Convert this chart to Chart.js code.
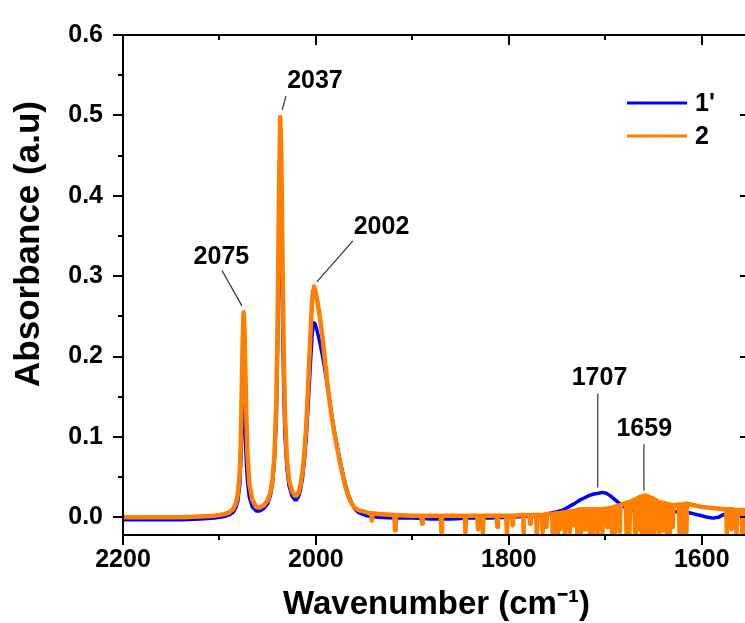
<!DOCTYPE html>
<html>
<head>
<meta charset="utf-8">
<script src="https://cdn.jsdelivr.net/npm/chart.js@4.4.0/dist/chart.umd.min.js"></script>
<style>
  html, body { margin: 0; padding: 0; background: #fff; overflow: hidden; width: 745px; height: 623px; }
  #c { display: block; }
</style>
</head>
<body>
<canvas id="c" width="760" height="623" style="width:760px;height:623px"></canvas>
<script>
// ---- data ----
const blueWn = [2200, 2170, 2140, 2120, 2105, 2095, 2090, 2086, 2083, 2081, 2079, 2078, 2077, 2076, 2075, 2074, 2073, 2072, 2071, 2069, 2066, 2062, 2058, 2054, 2050, 2047, 2045, 2043, 2041, 2040, 2039, 2038, 2037, 2036, 2035, 2034, 2033, 2032, 2030, 2028, 2025, 2022, 2020, 2018, 2016, 2014, 2012, 2010, 2008, 2006, 2004, 2003, 2002, 2001, 1999, 1996, 1993, 1990, 1987, 1984, 1981, 1978, 1975, 1972, 1969, 1966, 1963, 1960, 1956, 1950, 1944, 1935, 1920, 1900, 1880, 1860, 1840, 1820, 1800, 1785, 1775, 1765, 1757, 1750, 1744, 1738, 1732, 1727, 1722, 1717, 1712, 1707, 1703, 1699, 1695, 1691, 1687, 1683, 1679, 1675, 1670, 1662, 1654, 1645, 1636, 1628, 1620, 1614, 1607, 1600, 1594, 1588, 1583, 1578, 1572, 1565, 1558, 1550];
const blueAbs = [-0.003, -0.003, -0.003, -0.002, -0.001, 0.001, 0.003, 0.006, 0.012, 0.02, 0.04, 0.065, 0.1, 0.128, 0.138, 0.125, 0.095, 0.065, 0.045, 0.025, 0.013, 0.008, 0.008, 0.011, 0.017, 0.028, 0.042, 0.07, 0.125, 0.19, 0.27, 0.35, 0.393, 0.36, 0.28, 0.2, 0.14, 0.1, 0.06, 0.04, 0.027, 0.022, 0.022, 0.026, 0.034, 0.048, 0.07, 0.1, 0.14, 0.185, 0.225, 0.238, 0.242, 0.241, 0.233, 0.218, 0.2, 0.178, 0.155, 0.13, 0.108, 0.089, 0.071, 0.054, 0.039, 0.027, 0.018, 0.011, 0.006, 0.003, 0.001, 0.0, -0.001, -0.001, -0.002, -0.002, -0.001, -0.001, 0.0, 0.001, 0.002, 0.003, 0.005, 0.007, 0.009, 0.013, 0.017, 0.021, 0.024, 0.027, 0.029, 0.03, 0.031, 0.03, 0.027, 0.023, 0.019, 0.015, 0.012, 0.01, 0.008, 0.007, 0.006, 0.006, 0.006, 0.007, 0.007, 0.006, 0.004, 0.002, 0.0, -0.001, 0.0, 0.003, 0.005, 0.006, 0.006, 0.006];

const orangeWn = [2200, 2170, 2140, 2120, 2105, 2095, 2090, 2086, 2083, 2081, 2079, 2078, 2077, 2076, 2075, 2074, 2073, 2072, 2071, 2069, 2066, 2062, 2058, 2054, 2050, 2047, 2045, 2043, 2041, 2040, 2039, 2038, 2037, 2036, 2035, 2034, 2033, 2032, 2030, 2028, 2025, 2022, 2020, 2018, 2016, 2014, 2012, 2010, 2008, 2006, 2004, 2003, 2002, 2001, 1999, 1996, 1993, 1990, 1987, 1984, 1981, 1978, 1975, 1972, 1969, 1966, 1963, 1960, 1956, 1950, 1944, 1935, 1920, 1900, 1880, 1860, 1840, 1820, 1800, 1785, 1770, 1755, 1745, 1735, 1725, 1715, 1705, 1697, 1690, 1683, 1676, 1670, 1665, 1660, 1655, 1650, 1645, 1638, 1630, 1622, 1615, 1608, 1600, 1592, 1584, 1575, 1565, 1550];
const orangeAbs = [0.0, 0.0, 0.0, 0.001, 0.002, 0.004, 0.006, 0.01, 0.017, 0.028, 0.055, 0.09, 0.15, 0.215, 0.255, 0.232, 0.175, 0.12, 0.08, 0.042, 0.022, 0.013, 0.012, 0.015, 0.021, 0.032, 0.047, 0.078, 0.145, 0.22, 0.32, 0.43, 0.498, 0.46, 0.36, 0.255, 0.18, 0.125, 0.072, 0.047, 0.033, 0.027, 0.027, 0.031, 0.04, 0.056, 0.08, 0.115, 0.165, 0.22, 0.268, 0.282, 0.287, 0.284, 0.272, 0.25, 0.222, 0.188, 0.155, 0.128, 0.106, 0.086, 0.068, 0.051, 0.036, 0.025, 0.017, 0.012, 0.009, 0.007, 0.005, 0.004, 0.003, 0.002, 0.002, 0.002, 0.002, 0.002, 0.002, 0.003, 0.003, 0.004, 0.006, 0.008, 0.01, 0.01, 0.01, 0.011, 0.013, 0.016, 0.019, 0.022, 0.025, 0.027, 0.026, 0.022, 0.019, 0.017, 0.015, 0.016, 0.017, 0.015, 0.013, 0.012, 0.011, 0.01, 0.009, 0.009];

// noise dropouts in trace 2: [wavenumber, level, bottom]
const orangeDips = [
  [1942, 0.005, -0.004], [1918, 0.003, -0.016], [1890, 0.002, -0.008], [1870, 0.002, -0.018],
  [1845, 0.002, -0.02], [1832, 0.002, -0.015], [1827, 0.002, -0.02], [1812, 0.002, -0.012],
  [1802, 0.002, -0.02], [1796, 0.002, -0.01], [1785, 0.003, -0.02], [1778, 0.003, -0.008],
  [1771, 0.003, -0.02], [1765, 0.003, -0.02], [1761, 0.004, -0.012], [1755, 0.004, -0.02],
  [1750, 0.005, -0.02], [1747, 0.005, -0.015], [1742, 0.006, -0.02], [1737, 0.007, -0.02],
  [1733, 0.008, -0.01], [1729, 0.009, -0.02], [1726, 0.01, -0.02], [1721, 0.01, -0.015],
  [1716, 0.01, -0.02], [1713, 0.01, -0.02], [1708, 0.01, -0.02], [1703, 0.01, -0.02],
  [1698, 0.011, -0.012], [1693, 0.012, -0.02], [1690, 0.013, -0.02], [1685, 0.015, -0.018],
  [1678, 0.018, -0.02], [1675, 0.019, -0.02], [1669, 0.022, -0.02], [1666, 0.024, -0.015],
  [1662, 0.026, -0.02], [1659, 0.027, -0.018], [1656, 0.026, -0.02], [1652, 0.024, -0.02],
  [1649, 0.022, -0.02], [1644, 0.019, -0.02], [1640, 0.018, -0.016], [1636, 0.017, -0.02],
  [1633, 0.016, -0.02], [1630, 0.015, -0.012], [1623, 0.016, -0.02], [1620, 0.016, -0.02],
  [1616, 0.017, -0.02], [1574, 0.01, -0.02], [1569, 0.01, -0.015], [1564, 0.009, -0.02],
  [1558, 0.009, -0.02], [1553, 0.009, -0.02],
];

const xTickLabels = [2200, 2000, 1800, 1600];
const xMinorTicks = [2200, 2100, 2000, 1900, 1800, 1700, 1600];
const yTickLabels = [0.0, 0.1, 0.2, 0.3, 0.4, 0.5, 0.6];
const yMinorTicks = [0.0, 0.05, 0.1, 0.15, 0.2, 0.25, 0.3, 0.35, 0.4, 0.45, 0.5, 0.55, 0.6];

// peak labels: [text, label wn, label abs, leader from wn/abs, leader to wn/abs]
const peakLabels = [
  ['2075', 2098, 0.324, 2097.4, 0.307, 2076.7, 0.263],
  ['2037', 2001, 0.5425, 2031, 0.524, 2035, 0.507],
  ['2002', 1932, 0.361, 1961.7, 0.344, 1999, 0.293],
  ['1707', 1706, 0.173, 1707.8, 0.154, 1707.8, 0.037],
  ['1659', 1659.6, 0.11, 1660, 0.091, 1660, 0.033],
];

const FONT = '"Liberation Sans", Arial, sans-serif';

function toPoints(wn, abs) {
  return wn.map((w, i) => ({ x: w, y: abs[i] }));
}

function withDips(points, dips) {
  const extra = [];
  dips.forEach(([w, level, bottom]) => {
    extra.push({ x: w + 0.7, y: level }, { x: w, y: bottom }, { x: w - 0.7, y: level });
  });
  return points.concat(extra).sort((a, b) => b.x - a.x);
}

const frameAndLabels = {
  id: 'frameAndLabels',
  afterDatasetsDraw(chart) {
    const { ctx, chartArea: a, scales: { x, y } } = chart;
    ctx.save();
    ctx.strokeStyle = '#000';
    ctx.lineWidth = 2;
    ctx.strokeRect(a.left, a.top, a.right - a.left, a.bottom - a.top);

    ctx.beginPath();
    xMinorTicks.forEach(v => {
      const px = Math.round(x.getPixelForValue(v));
      const len = xTickLabels.includes(v) ? 10 : 5;
      ctx.moveTo(px, a.bottom); ctx.lineTo(px, a.bottom + len);
      ctx.moveTo(px, a.top); ctx.lineTo(px, a.top + len);
    });
    yMinorTicks.forEach(v => {
      const py = Math.round(y.getPixelForValue(v));
      const len = yTickLabels.some(t => Math.abs(t - v) < 1e-9) ? 10 : 5;
      ctx.moveTo(a.left - len, py); ctx.lineTo(a.left, py);
      ctx.moveTo(a.right - len, py); ctx.lineTo(a.right, py);
    });
    ctx.stroke();

    // peak labels with leader lines
    ctx.strokeStyle = '#333';
    ctx.lineWidth = 1.2;
    ctx.fillStyle = '#000';
    ctx.font = 'bold 25px ' + FONT;
    ctx.textAlign = 'center';
    ctx.textBaseline = 'middle';
    peakLabels.forEach(([t, lx, ly, x1, y1, x2, y2]) => {
      ctx.fillText(t, x.getPixelForValue(lx), y.getPixelForValue(ly));
      ctx.beginPath();
      ctx.moveTo(x.getPixelForValue(x1), y.getPixelForValue(y1));
      ctx.lineTo(x.getPixelForValue(x2), y.getPixelForValue(y2));
      ctx.stroke();
    });

    // legend
    const ds = [chart.data.datasets[1], chart.data.datasets[0]];
    ctx.textAlign = 'left';
    ds.forEach((d, i) => {
      const ly = 103 + i * 33;
      ctx.strokeStyle = d.borderColor;
      ctx.lineWidth = 3;
      ctx.beginPath();
      ctx.moveTo(627, ly); ctx.lineTo(687, ly);
      ctx.stroke();
      ctx.fillText(d.label, 695, ly + 1);
    });

    // y axis title
    ctx.translate(29, 244);
    ctx.rotate(-Math.PI / 2);
    ctx.textAlign = 'center';
    ctx.font = 'bold 35px ' + FONT;
    ctx.fillText('Absorbance (a.u)', 0, 0);
    ctx.restore();
  }
};

new Chart(document.getElementById('c'), {
  type: 'line',
  data: {
    datasets: [
      {
        label: '2', data: withDips(toPoints(orangeWn, orangeAbs), orangeDips),
        borderColor: '#ff8000', borderWidth: 4.5, pointRadius: 0, tension: 0,
        borderJoinStyle: 'round', borderCapStyle: 'round', order: 1,
      },
      {
        label: "1'", data: toPoints(blueWn, blueAbs),
        borderColor: '#0000ff', borderWidth: 3.5, pointRadius: 0, tension: 0,
        borderJoinStyle: 'round', borderCapStyle: 'round', order: 2,
      },
    ],
  },
  options: {
    responsive: false, animation: false, devicePixelRatio: 1,
    layout: { padding: { left: 0, right: 10, top: 30, bottom: 0 } },
    plugins: { legend: { display: false }, tooltip: { enabled: false } },
    scales: {
      x: {
        type: 'linear', reverse: true, min: 1550, max: 2200,
        afterBuildTicks: s => { s.ticks = xTickLabels.map(v => ({ value: v })); },
        afterFit: s => { s.height = 88; },
        grid: { display: false, drawTicks: false },
        border: { display: false },
        ticks: { color: '#000', padding: 10, font: { family: FONT, size: 25, weight: 'bold' }, callback: v => String(v), maxRotation: 0 },
        title: {
          display: true, text: 'Wavenumber (cm\u207B\u00B9)', color: '#000',
          font: { family: FONT, size: 33, weight: 'bold', lineHeight: 1 }, padding: { top: 0, bottom: 2 },
        },
      },
      y: {
        min: -0.022, max: 0.6,
        afterBuildTicks: s => { s.ticks = yTickLabels.map(v => ({ value: v })); },
        afterFit: s => { s.width = 123; },
        grid: { display: false, drawTicks: false },
        border: { display: false },
        ticks: { color: '#000', padding: 20, font: { family: FONT, size: 25, weight: 'bold' }, callback: v => v.toFixed(1) },
      },
    },
  },
  plugins: [frameAndLabels],
});
</script>
</body>
</html>
